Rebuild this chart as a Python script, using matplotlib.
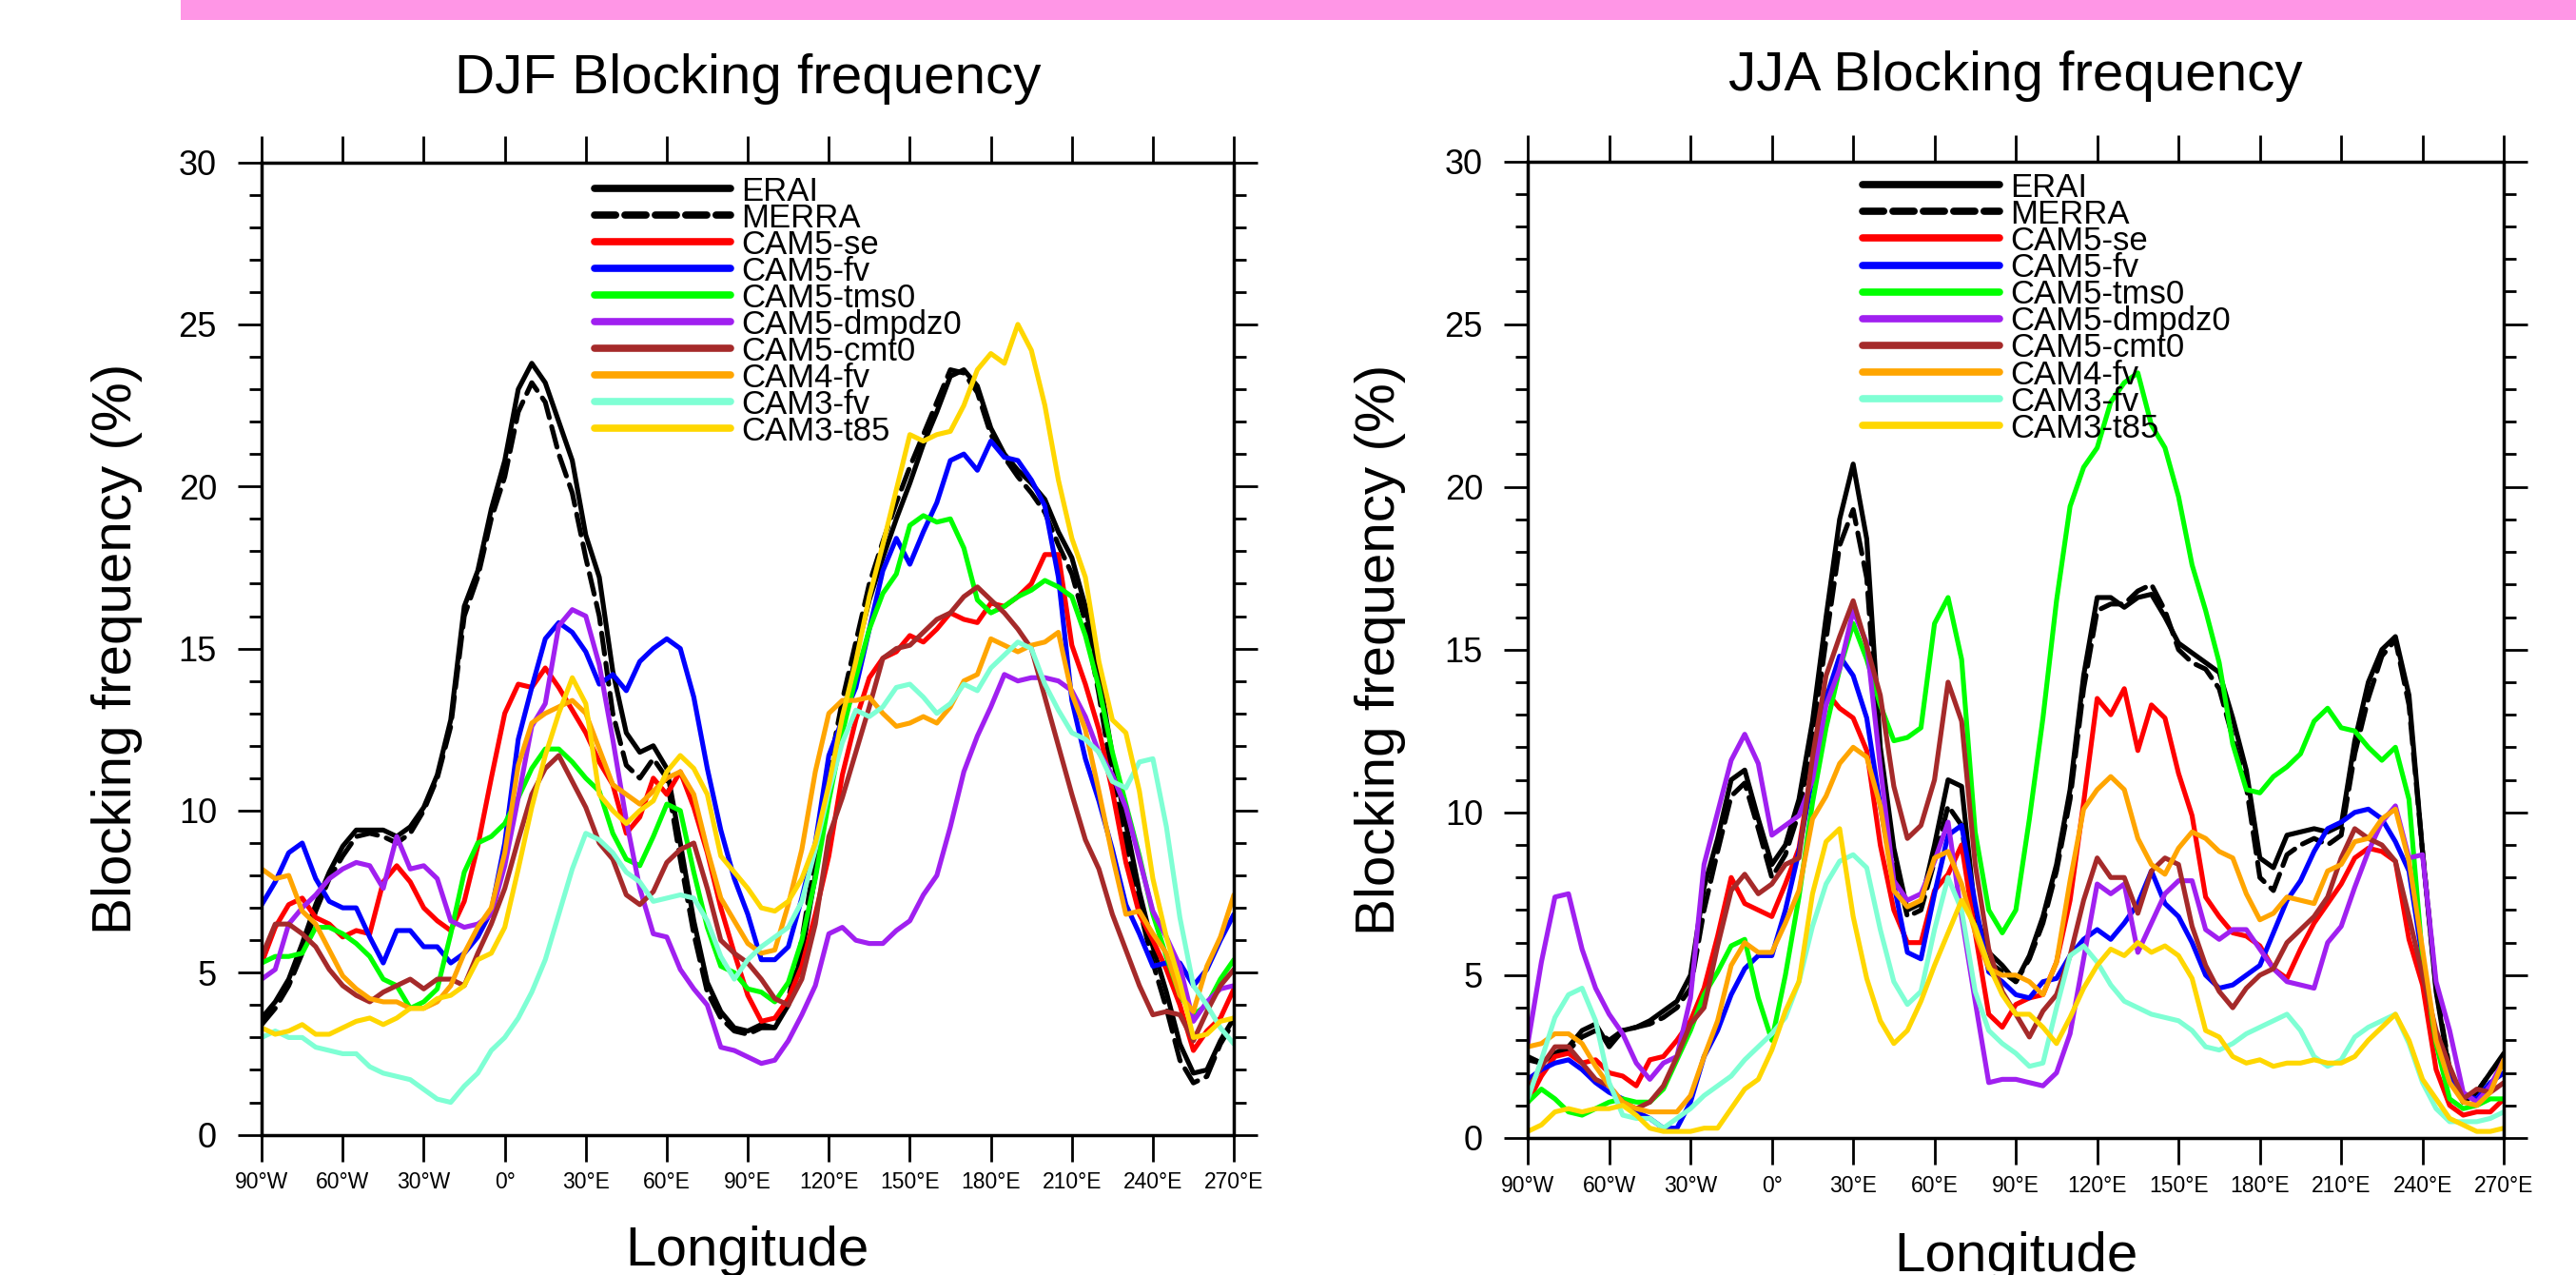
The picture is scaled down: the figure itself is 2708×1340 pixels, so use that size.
import numpy as np
import matplotlib
matplotlib.use("Agg")
import matplotlib.pyplot as plt
from matplotlib.patches import Rectangle
from matplotlib.ticker import MultipleLocator

plt.rcParams["font.family"] = ["Liberation Sans", "DejaVu Sans"]
plt.rcParams["lines.scale_dashes"] = False

# longitude grid, 5 degree steps from 90W to 270E
lon = np.arange(-90, 271, 5)

names = ["ERAI", "MERRA", "CAM5-se", "CAM5-fv", "CAM5-tms0", "CAM5-dmpdz0",
         "CAM5-cmt0", "CAM4-fv", "CAM3-fv", "CAM3-t85"]
colors = ["black", "black", "#ff0000", "#0000ff", "#00ff00", "#a020f0",
          "#a52a2a", "#ffa500", "#7fffd4", "#ffd700"]
dashed = [False, True, False, False, False, False, False, False, False, False]

xtick_vals = [-90, -60, -30, 0, 30, 60, 90, 120, 150, 180, 210, 240, 270]
xtick_labels = ["90°W", "60°W", "30°W", "0°", "30°E", "60°E", "90°E",
                "120°E", "150°E", "180°E", "210°E", "240°E", "270°E"]

# ---- DJF blocking frequency (%) ----
djf_erai = [3.6, 4.1, 4.8, 5.9, 7.1, 8.1, 8.9, 9.4, 9.4, 9.4, 9.2, 9.5,
            10.1, 11.1, 12.8, 16.3, 17.4, 19.3, 20.8, 23.0, 23.8, 23.2, 22.0, 20.8,
            18.5, 17.2, 14.3, 12.4, 11.8, 12.0, 11.3, 9.0, 6.6, 4.7, 3.8, 3.3,
            3.2, 3.4, 3.3, 4.0, 5.6, 8.0, 10.5, 12.8, 14.8, 16.5, 17.8, 19.0,
            20.1, 21.3, 22.3, 23.4, 23.6, 23.1, 21.8, 21.0, 20.5, 20.1, 19.6, 18.6,
            17.8, 16.3, 14.2, 11.7, 9.6, 7.5, 5.8, 4.4, 2.8, 1.9, 2.0, 2.9,
            3.6]
djf_merra = [3.4, 3.9, 4.6, 5.6, 6.9, 7.9, 8.6, 9.2, 9.3, 9.2, 9.0, 9.3,
             10.0, 11.0, 12.6, 16.0, 17.2, 19.0, 20.3, 22.3, 23.2, 22.6, 21.0, 19.8,
             17.8, 16.0, 13.0, 11.4, 11.0, 11.6, 11.0, 8.5, 6.2, 4.4, 3.6, 3.2,
             3.1, 3.3, 3.3, 4.2, 6.0, 8.6, 11.2, 13.4, 15.2, 17.0, 18.3, 19.5,
             20.6, 21.6, 22.6, 23.6, 23.5, 22.9, 21.6, 20.9, 20.3, 19.8, 19.2, 18.2,
             17.3, 15.8, 13.6, 11.0, 9.0, 7.0, 5.3, 3.9, 2.3, 1.6, 1.8, 2.8,
             3.5]
djf_cam5_se = [5.3, 6.4, 7.1, 7.3, 6.7, 6.5, 6.1, 6.3, 6.2, 7.8, 8.3, 7.8,
               7.0, 6.6, 6.3, 7.2, 8.9, 11.0, 13.0, 13.9, 13.8, 14.4, 13.8, 13.1,
               12.4, 11.5, 10.8, 9.3, 9.8, 11.0, 10.5, 11.2, 10.1, 8.7, 7.0, 5.6,
               4.3, 3.5, 3.6, 4.2, 5.2, 6.8, 8.6, 11.1, 12.8, 14.1, 14.7, 14.9,
               15.4, 15.2, 15.6, 16.1, 15.9, 15.8, 16.4, 16.3, 16.6, 17.0, 17.9, 17.9,
               15.1, 13.9, 12.5, 10.6, 8.4, 6.8, 6.0, 5.1, 4.0, 2.6, 3.2, 3.6,
               4.5]
djf_cam5_fv = [7.1, 7.8, 8.7, 9.0, 7.9, 7.2, 7.0, 7.0, 6.1, 5.3, 6.3, 6.3,
               5.8, 5.8, 5.3, 5.6, 6.1, 6.9, 9.0, 12.2, 13.8, 15.3, 15.8, 15.5,
               14.9, 13.9, 14.2, 13.7, 14.6, 15.0, 15.3, 15.0, 13.5, 11.3, 9.4, 7.9,
               6.8, 5.4, 5.4, 5.8, 7.3, 9.0, 11.7, 12.8, 13.8, 15.6, 17.4, 18.4,
               17.6, 18.6, 19.5, 20.8, 21.0, 20.5, 21.4, 20.9, 20.8, 20.2, 19.4, 17.2,
               13.4, 11.6, 10.3, 8.8, 7.1, 6.2, 5.2, 5.3, 5.3, 4.6, 5.1, 6.0,
               6.8]
djf_cam5_tms0 = [5.3, 5.5, 5.5, 5.6, 6.4, 6.4, 6.2, 5.9, 5.5, 4.8, 4.6, 3.9,
                 4.1, 4.5, 6.2, 8.1, 9.0, 9.2, 9.6, 10.4, 11.3, 11.9, 11.9, 11.5,
                 11.0, 10.6, 9.3, 8.5, 8.3, 9.2, 10.2, 10.0, 8.1, 6.4, 5.2, 5.0,
                 4.5, 4.4, 4.1, 4.7, 6.0, 7.9, 10.3, 12.4, 14.1, 15.6, 16.7, 17.3,
                 18.8, 19.1, 18.9, 19.0, 18.1, 16.5, 16.1, 16.3, 16.6, 16.8, 17.1, 16.9,
                 16.6, 15.4, 13.8, 11.8, 10.2, 8.6, 6.8, 5.5, 4.3, 3.7, 4.0, 4.8,
                 5.4]
djf_cam5_dmpdz0 = [4.8, 5.1, 6.5, 7.0, 7.4, 7.9, 8.2, 8.4, 8.3, 7.6, 9.2, 8.2,
                   8.3, 7.9, 6.6, 6.4, 6.5, 6.8, 8.3, 10.4, 12.6, 13.3, 15.7, 16.2,
                   16.0, 14.5, 12.2, 9.7, 7.6, 6.2, 6.1, 5.1, 4.5, 4.0, 2.7, 2.6,
                   2.4, 2.2, 2.3, 2.9, 3.7, 4.6, 6.2, 6.4, 6.0, 5.9, 5.9, 6.3,
                   6.6, 7.4, 8.0, 9.5, 11.2, 12.3, 13.2, 14.2, 14.0, 14.1, 14.1, 14.0,
                   13.7, 12.9, 11.8, 11.1, 10.1, 8.5, 6.9, 6.1, 5.2, 3.5, 4.1, 4.5,
                   4.6]
djf_cam5_cmt0 = [5.5, 6.5, 6.5, 6.2, 5.8, 5.1, 4.6, 4.3, 4.1, 4.4, 4.6, 4.8,
                 4.5, 4.8, 4.8, 4.6, 5.6, 6.5, 7.6, 9.1, 10.5, 11.3, 11.7, 10.9,
                 10.1, 9.0, 8.5, 7.4, 7.1, 7.5, 8.4, 8.8, 9.0, 7.6, 6.0, 5.6,
                 5.3, 4.8, 4.2, 4.0, 4.8, 6.5, 9.2, 10.4, 11.8, 13.2, 14.7, 15.0,
                 15.1, 15.5, 15.9, 16.1, 16.6, 16.9, 16.5, 16.1, 15.6, 15.0, 13.5, 12.0,
                 10.5, 9.1, 8.2, 6.8, 5.7, 4.6, 3.7, 3.8, 3.7, 2.9, 3.8, 4.6,
                 5.1]
djf_cam4_fv = [8.2, 7.9, 8.0, 6.9, 6.5, 5.7, 4.9, 4.5, 4.2, 4.1, 4.1, 3.9,
               3.9, 4.1, 4.6, 5.6, 6.4, 7.0, 8.7, 11.4, 12.7, 13.0, 13.2, 13.4,
               13.0, 11.9, 10.8, 10.5, 10.2, 10.6, 11.0, 11.2, 10.5, 8.8, 7.3, 6.6,
               5.9, 5.6, 5.7, 7.1, 8.8, 11.2, 13.0, 13.4, 13.4, 13.5, 13.0, 12.6,
               12.7, 12.9, 12.7, 13.2, 14.0, 14.2, 15.3, 15.1, 14.9, 15.1, 15.2, 15.5,
               13.6, 12.5, 10.6, 8.6, 6.8, 6.9, 6.2, 5.6, 4.3, 3.8, 5.2, 6.1,
               7.4]
djf_cam3_fv = [3.0, 3.2, 3.0, 3.0, 2.7, 2.6, 2.5, 2.5, 2.1, 1.9, 1.8, 1.7,
               1.4, 1.1, 1.0, 1.5, 1.9, 2.6, 3.0, 3.6, 4.4, 5.4, 6.8, 8.2,
               9.3, 9.1, 8.7, 8.1, 7.8, 7.2, 7.3, 7.4, 7.3, 6.6, 5.5, 4.8,
               5.4, 5.8, 6.1, 6.4, 7.2, 8.8, 10.6, 12.1, 13.1, 12.9, 13.2, 13.8,
               13.9, 13.5, 13.0, 13.3, 13.9, 13.7, 14.4, 14.8, 15.2, 15.0, 13.9, 13.1,
               12.4, 12.2, 11.8, 10.9, 10.7, 11.5, 11.6, 9.5, 6.7, 4.6, 4.0, 3.3,
               2.8]
djf_cam3_t85 = [3.3, 3.1, 3.2, 3.4, 3.1, 3.1, 3.3, 3.5, 3.6, 3.4, 3.6, 3.9,
                3.9, 4.2, 4.3, 4.6, 5.4, 5.6, 6.4, 8.2, 10.1, 11.7, 13.0, 14.1,
                13.3, 10.5, 10.0, 9.6, 10.0, 10.3, 11.2, 11.7, 11.3, 10.5, 8.6, 8.1,
                7.6, 7.0, 6.9, 7.2, 7.9, 9.0, 10.8, 12.9, 14.6, 16.6, 18.2, 19.9,
                21.6, 21.4, 21.6, 21.7, 22.5, 23.6, 24.1, 23.8, 25.0, 24.2, 22.5, 20.2,
                18.4, 17.2, 14.6, 12.8, 12.4, 10.6, 7.9, 6.1, 4.7, 3.0, 3.1, 3.5,
                3.6]

# ---- JJA blocking frequency (%) ----
jja_erai = [2.5, 2.3, 2.6, 2.8, 3.3, 3.5, 2.8, 3.3, 3.4, 3.6, 3.9, 4.2,
            5.0, 7.7, 9.2, 11.0, 11.3, 9.8, 8.4, 9.0, 10.4, 12.8, 16.0, 19.0,
            20.7, 18.4, 12.0, 8.9, 7.0, 7.2, 9.0, 11.0, 10.8, 6.9, 5.7, 5.3,
            4.8, 5.6, 6.8, 8.4, 10.7, 14.2, 16.6, 16.6, 16.3, 16.6, 16.7, 16.0,
            15.2, 14.9, 14.6, 14.3, 12.9, 11.3, 8.6, 8.3, 9.3, 9.4, 9.5, 9.4,
            9.6, 12.2, 14.0, 15.0, 15.4, 13.6, 8.8, 4.5, 2.0, 1.1, 1.4, 2.0,
            2.6]
jja_merra = [2.4, 2.3, 2.6, 2.7, 3.1, 3.3, 3.0, 3.3, 3.4, 3.5, 3.7, 4.0,
             4.6, 7.0, 8.8, 10.5, 10.9, 9.5, 8.0, 8.7, 10.0, 12.3, 15.3, 18.2,
             19.3, 17.2, 11.5, 8.5, 6.8, 7.0, 8.5, 10.2, 9.6, 6.5, 5.4, 5.1,
             4.8, 5.5, 6.6, 8.2, 10.4, 13.8, 16.2, 16.4, 16.4, 16.8, 17.0, 16.2,
             15.0, 14.6, 14.4, 13.8, 12.3, 10.8, 8.0, 7.6, 8.7, 9.0, 9.2, 9.0,
             9.3, 11.8, 13.5, 14.8, 15.3, 13.3, 8.8, 4.6, 2.1, 1.1, 1.4, 2.0,
             2.5]
jja_cam5_se = [1.1, 1.9, 2.5, 2.6, 2.3, 2.4, 2.0, 1.9, 1.6, 2.4, 2.5, 3.0,
               3.6, 4.6, 6.2, 8.0, 7.2, 7.0, 6.8, 7.8, 8.9, 11.5, 13.7, 13.2,
               12.9, 11.9, 9.0, 7.0, 6.0, 6.0, 7.6, 8.1, 9.0, 6.3, 3.8, 3.4,
               4.1, 4.3, 4.4, 5.4, 7.3, 10.3, 13.5, 13.0, 13.8, 11.9, 13.3, 12.9,
               11.2, 9.9, 7.4, 6.8, 6.3, 6.2, 5.9, 5.2, 4.9, 5.8, 6.6, 7.2,
               7.8, 8.6, 8.9, 8.8, 8.5, 6.1, 4.7, 2.1, 1.0, 0.7, 0.8, 0.8,
               1.2]
jja_cam5_fv = [1.8, 2.1, 2.3, 2.4, 2.1, 1.7, 1.4, 1.2, 0.8, 0.6, 0.3, 0.3,
               1.1, 2.5, 3.3, 4.4, 5.2, 5.6, 5.6, 7.0, 8.8, 11.1, 13.5, 14.8,
               14.2, 12.9, 10.2, 7.8, 5.7, 5.5, 7.5, 9.3, 9.6, 7.2, 5.1, 4.8,
               4.4, 4.3, 4.8, 4.9, 5.6, 6.1, 6.4, 6.1, 6.6, 7.2, 8.2, 7.2,
               6.8, 6.0, 5.0, 4.6, 4.7, 5.0, 5.3, 6.3, 7.3, 7.9, 8.8, 9.5,
               9.7, 10.0, 10.1, 9.8, 9.1, 8.2, 5.5, 3.0, 1.8, 1.3, 1.2, 1.7,
               2.0]
jja_cam5_tms0 = [1.1, 1.5, 1.2, 0.8, 0.7, 0.9, 1.1, 1.2, 1.1, 1.1, 1.5, 2.4,
                 3.3, 4.4, 5.1, 5.9, 6.1, 4.3, 3.0, 5.0, 7.4, 10.3, 12.6, 14.4,
                 15.8, 14.7, 13.3, 12.2, 12.3, 12.6, 15.8, 16.6, 14.7, 9.4, 7.0, 6.3,
                 7.0, 9.8, 12.9, 16.5, 19.4, 20.6, 21.2, 22.6, 23.2, 23.5, 21.9, 21.2,
                 19.7, 17.6, 16.2, 14.6, 12.1, 10.7, 10.6, 11.1, 11.4, 11.8, 12.8, 13.2,
                 12.6, 12.5, 12.0, 11.6, 12.0, 10.4, 5.5, 2.9, 1.2, 0.9, 1.0, 1.2,
                 1.2]
jja_cam5_dmpdz0 = [2.9, 5.4, 7.4, 7.5, 5.8, 4.6, 3.8, 3.2, 2.3, 1.8, 2.3, 2.5,
                   4.3, 8.4, 10.0, 11.6, 12.4, 11.5, 9.3, 9.6, 9.9, 11.0, 13.3, 14.4,
                   16.2, 15.2, 11.4, 7.9, 7.3, 7.5, 8.5, 9.7, 6.8, 4.2, 1.7, 1.8,
                   1.8, 1.7, 1.6, 2.0, 3.2, 5.5, 7.8, 7.5, 7.8, 5.7, 6.6, 7.5,
                   7.9, 7.9, 6.4, 6.1, 6.4, 6.4, 5.8, 5.2, 4.8, 4.7, 4.6, 6.0,
                   6.5, 7.7, 8.8, 9.7, 10.2, 8.6, 8.7, 4.8, 3.3, 1.4, 1.1, 1.6,
                   2.4]
jja_cam5_cmt0 = [1.5, 2.2, 2.8, 2.8, 2.3, 1.8, 1.6, 1.1, 0.9, 1.1, 1.6, 2.5,
                 3.5, 4.0, 5.9, 7.6, 8.1, 7.5, 7.8, 8.4, 8.6, 11.7, 14.2, 15.4,
                 16.5, 15.1, 13.6, 10.8, 9.2, 9.6, 11.0, 14.0, 12.8, 8.4, 5.8, 4.5,
                 3.8, 3.1, 3.9, 4.4, 5.6, 7.3, 8.6, 8.0, 8.0, 6.9, 8.2, 8.6,
                 8.4, 6.5, 5.3, 4.5, 4.0, 4.6, 5.0, 5.2, 6.0, 6.4, 6.8, 7.4,
                 8.6, 9.5, 9.2, 9.0, 8.5, 6.8, 5.0, 3.3, 2.2, 1.2, 1.5, 1.4,
                 1.7]
jja_cam4_fv = [2.8, 2.9, 3.2, 3.2, 2.9, 2.2, 1.6, 1.1, 0.9, 0.8, 0.8, 0.8,
               1.3, 2.5, 3.6, 5.3, 6.0, 5.7, 5.7, 6.6, 7.6, 9.8, 10.5, 11.5,
               12.0, 11.7, 10.2, 7.6, 7.1, 7.3, 8.6, 8.8, 7.8, 6.3, 5.2, 5.0,
               5.0, 4.8, 4.4, 5.4, 7.9, 10.1, 10.7, 11.1, 10.7, 9.2, 8.4, 8.1,
               8.9, 9.4, 9.2, 8.8, 8.6, 7.5, 6.7, 6.9, 7.4, 7.3, 7.2, 8.2,
               8.4, 9.1, 9.2, 9.8, 10.1, 8.5, 5.8, 3.0, 1.7, 1.1, 1.0, 1.4,
               2.4]
jja_cam3_fv = [1.2, 2.4, 3.7, 4.4, 4.6, 3.6, 1.7, 0.7, 0.6, 0.6, 0.3, 0.6,
               0.9, 1.3, 1.6, 1.9, 2.4, 2.8, 3.2, 3.7, 4.8, 6.5, 7.8, 8.5,
               8.7, 8.3, 6.4, 4.8, 4.1, 4.5, 6.4, 8.0, 7.0, 4.5, 3.3, 2.9,
               2.6, 2.2, 2.3, 4.0, 5.6, 5.9, 5.4, 4.7, 4.2, 4.0, 3.8, 3.7,
               3.6, 3.3, 2.8, 2.7, 2.9, 3.2, 3.4, 3.6, 3.8, 3.3, 2.5, 2.2,
               2.4, 3.1, 3.4, 3.6, 3.8, 2.9, 1.7, 0.9, 0.5, 0.5, 0.5, 0.6,
               0.8]
jja_cam3_t85 = [0.2, 0.4, 0.8, 0.9, 0.8, 0.9, 0.9, 1.0, 0.7, 0.3, 0.2, 0.2,
                0.2, 0.3, 0.3, 0.9, 1.5, 1.8, 2.7, 3.9, 4.8, 7.5, 9.1, 9.5,
                6.8, 4.9, 3.6, 2.9, 3.3, 4.2, 5.3, 6.3, 7.3, 6.5, 5.3, 4.4,
                3.8, 3.8, 3.4, 2.9, 3.7, 4.6, 5.3, 5.8, 5.6, 6.0, 5.7, 5.9,
                5.6, 4.9, 3.3, 3.1, 2.5, 2.3, 2.4, 2.2, 2.3, 2.3, 2.4, 2.3,
                2.3, 2.5, 3.0, 3.4, 3.8, 3.0, 1.8, 1.2, 0.6, 0.4, 0.2, 0.2,
                0.3]

djf = [djf_erai, djf_merra, djf_cam5_se, djf_cam5_fv, djf_cam5_tms0,
       djf_cam5_dmpdz0, djf_cam5_cmt0, djf_cam4_fv, djf_cam3_fv, djf_cam3_t85]
jja = [jja_erai, jja_merra, jja_cam5_se, jja_cam5_fv, jja_cam5_tms0,
       jja_cam5_dmpdz0, jja_cam5_cmt0, jja_cam4_fv, jja_cam3_fv, jja_cam3_t85]

DASH = (16, 7)


def draw_panel(fig, rect, series, legend_x, legend_y):
    ax = fig.add_axes(rect)
    for vals, name, col, dash in zip(series, names, colors, dashed):
        line, = ax.plot(lon, vals, color=col, lw=3.7, solid_joinstyle="round",
                        solid_capstyle="round")
        if dash:
            line.set_dashes(DASH)
            line.set_dash_capstyle("round")

    # legend drawn by hand so the rows can overlap like the original
    row = 0.0274
    for i, (name, col, dash) in enumerate(zip(names, colors, dashed)):
        y = legend_y - i * row
        h, = ax.plot([legend_x, legend_x + 0.14], [y, y], transform=ax.transAxes,
                     color=col, lw=5.5, solid_capstyle="round", clip_on=False)
        if dash:
            h.set_dashes(DASH)
            h.set_dash_capstyle("round")
        ax.text(legend_x + 0.151, y - 0.0122, name, transform=ax.transAxes,
                fontsize=25, va="baseline", ha="left")

    ax.set_xlim(-90, 270)
    ax.set_ylim(0, 30)
    ax.set_xticks(xtick_vals)
    ax.set_xticklabels(xtick_labels)
    ax.set_yticks([0, 5, 10, 15, 20, 25, 30])
    ax.yaxis.set_minor_locator(MultipleLocator(1))
    ax.tick_params(axis="x", which="major", direction="out", length=20, width=2,
                   top=True, labelsize=16.5, pad=8)
    ax.tick_params(axis="y", which="major", direction="out", length=18, width=2,
                   right=True, labelsize=26, pad=16)
    ax.tick_params(axis="y", which="minor", direction="out", length=9.5, width=2,
                   right=True)
    for sp in ax.spines.values():
        sp.set_linewidth(2.5)
    return ax


fig = plt.figure(figsize=(27.08, 13.40), dpi=100)

# pink strip along the top edge
fig.patches.append(Rectangle((190 / 2708, 1 - 21 / 1340), 1 - 190 / 2708, 21 / 1340,
                             transform=fig.transFigure, color="#ff96e6", lw=0))

ax1 = draw_panel(fig, [0.1016, 0.1100, 0.3774, 0.7627], djf, 0.3425, 0.973)
ax2 = draw_panel(fig, [0.5931, 0.1075, 0.3789, 0.7660], jja, 0.343, 0.976)

fig.text(0.2902, 0.9269, "DJF Blocking frequency", fontsize=42,
         ha="center", va="baseline")
fig.text(0.7825, 0.9291, "JJA Blocking frequency", fontsize=42,
         ha="center", va="baseline")

fig.text(0.0454, 0.4913, "Blocking frequency (%)", fontsize=42, rotation=90,
         ha="center", va="center")
fig.text(0.5358, 0.4905, "Blocking frequency (%)", fontsize=42, rotation=90,
         ha="center", va="center")

fig.text(0.2902, 0.0075, "Longitude", fontsize=42, ha="center", va="baseline")
fig.text(0.7825, 0.003, "Longitude", fontsize=42, ha="center", va="baseline")

fig.savefig("out.png", dpi=100)
